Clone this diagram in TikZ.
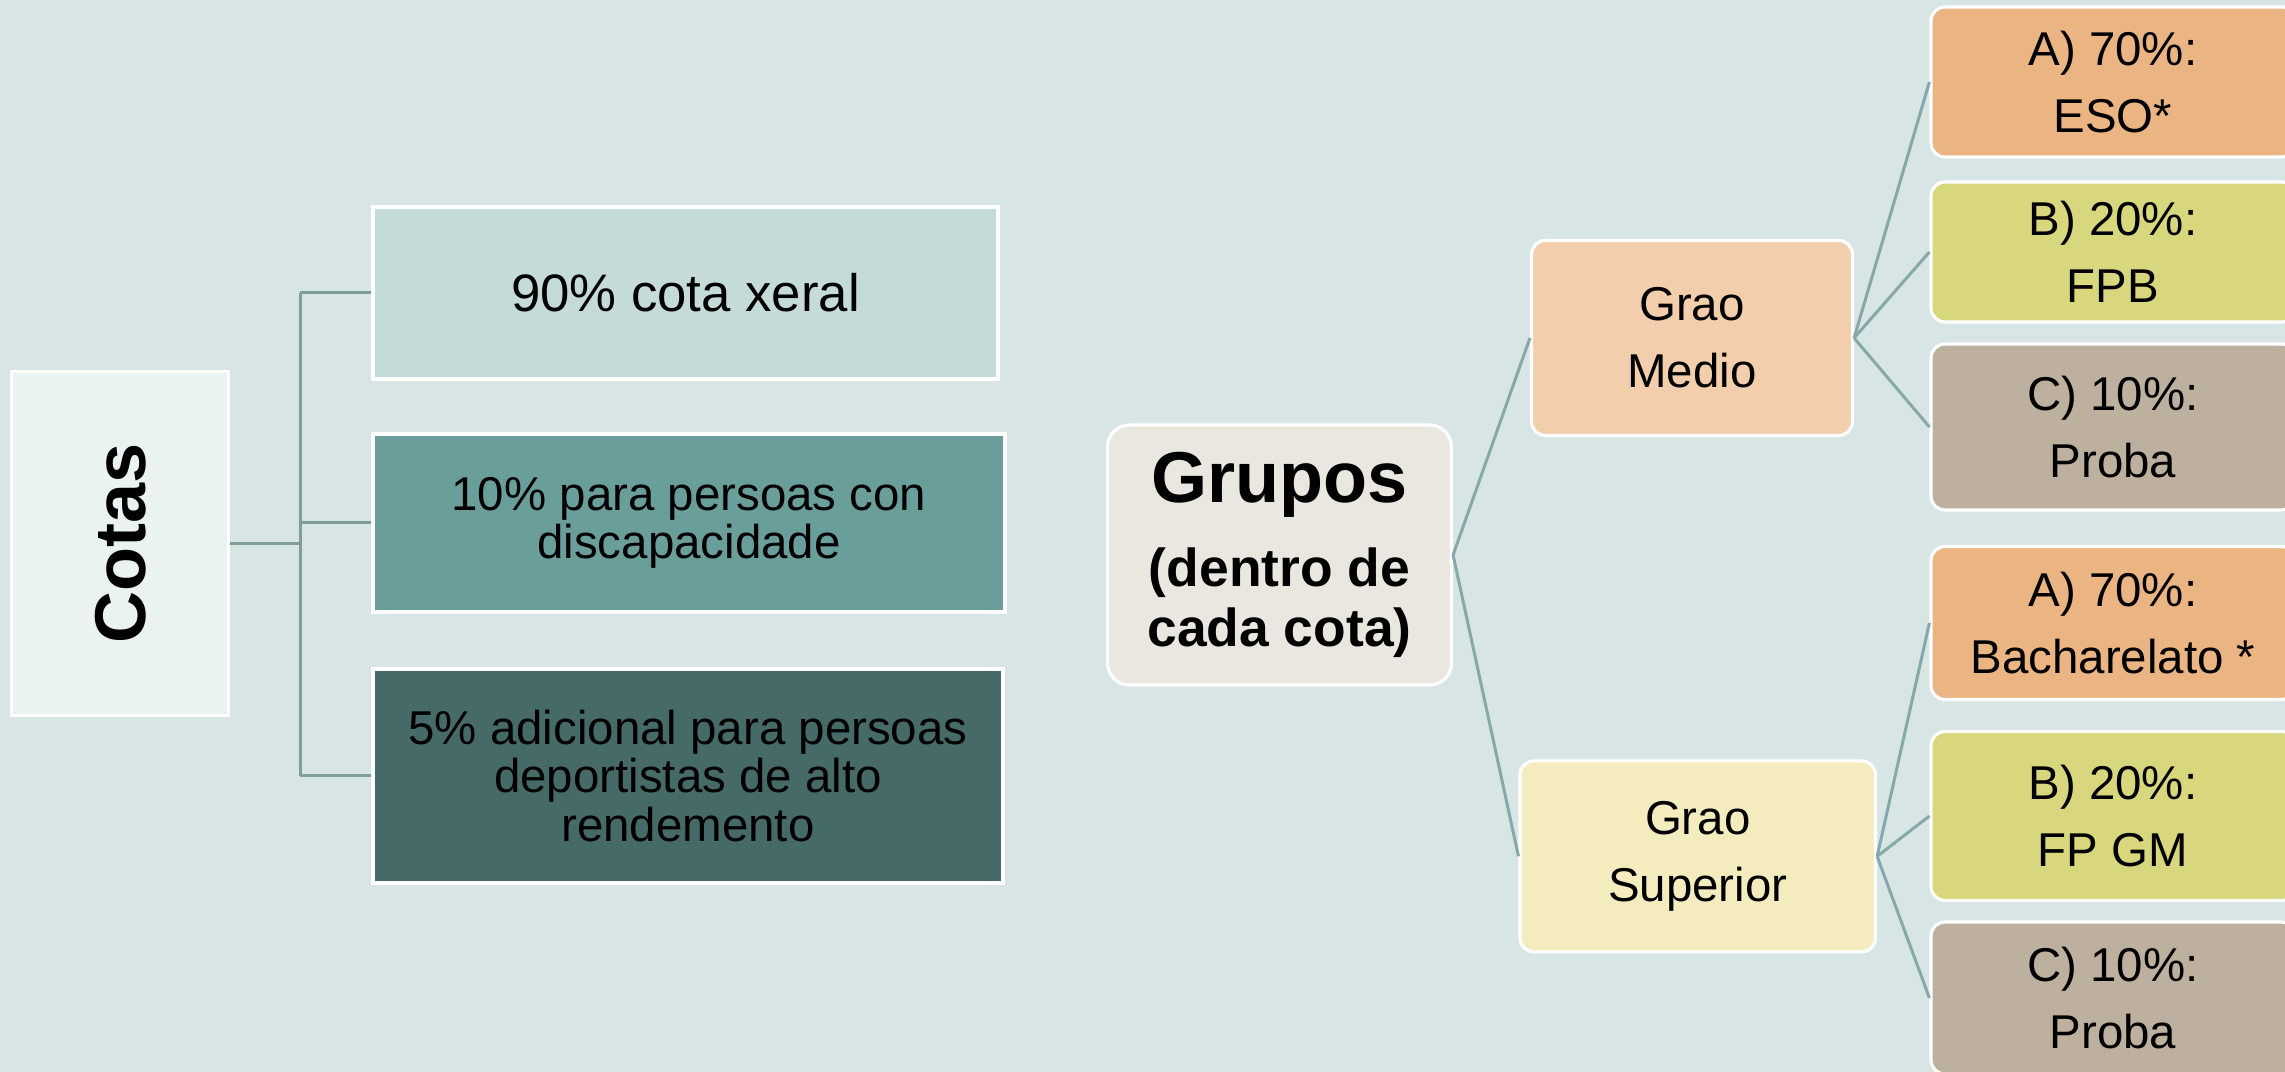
\documentclass[tikz,border=0pt]{standalone}
\usepackage{fontspec}
\setmainfont{Liberation Sans}
\usepackage{graphicx}
\usetikzlibrary{positioning}

\definecolor{fondo}{HTML}{D7E5E5}
\definecolor{cotafondo}{HTML}{EAF3F2}
\definecolor{xeralfondo}{HTML}{C5DBD9}
\definecolor{discapfondo}{HTML}{699E9B}
\definecolor{deportfondo}{HTML}{466A68}
\definecolor{grupofondo}{HTML}{EAE6E0}
\definecolor{mediofondo}{HTML}{F2CEAC}
\definecolor{superiorfondo}{HTML}{F4ECBE}
\definecolor{afondo}{HTML}{EAB483}
\definecolor{bfondo}{HTML}{D8D77E}
\definecolor{cfondo}{HTML}{BEB09F}
\definecolor{linea}{HTML}{7F9E9B}
\definecolor{lineab}{HTML}{86A8A8}

\tikzstyle{cotabox}=[draw=white,line width=0.9pt,inner sep=0pt,align=center,font=\fontsize{13.5}{13.8}\selectfont]
\tikzstyle{grupobox}=[cotabox,rounded corners=1.4mm,font=\fontsize{13.5}{19}\selectfont]
\tikzstyle{ligazon}=[draw=linea,line width=0.85pt]
\tikzstyle{ligazonb}=[draw=lineab,line width=0.85pt]

\begin{document}
\begin{tikzpicture}
	\fill[fondo] (0,0) rectangle (22.85,-10.72);
	\useasboundingbox (0,0) rectangle (22.85,-10.72);
			% Cotas on the left
			\node[cotabox,fill=cotafondo,minimum width=2.17cm,minimum height=3.44cm] (cotas) at (1.203,-5.436) {\rotatebox{90}{\bfseries\fontsize{20.5}{24}\selectfont Cotas}};
			\node[cotabox,fill=xeralfondo,minimum width=6.25cm,minimum height=1.72cm,font=\fontsize{15}{18}\selectfont] (xeral) at (6.855,-2.93) {90\% cota xeral};
			\node[cotabox,fill=discapfondo,minimum width=6.32cm,minimum height=1.78cm] (discap) at (6.89,-5.23) {10\% para persoas con\\discapacidade};
			\node[cotabox,fill=deportfondo,minimum width=6.30cm,minimum height=2.14cm] (deport) at (6.88,-7.76) {5\% adicional para persoas\\deportistas de alto\\rendemento};
			% Grupos and their branches
			\node[grupobox,fill=grupofondo,rounded corners=2.2mm,minimum width=3.44cm,minimum height=2.60cm] (grupos) at (12.795,-5.55) {{\bfseries\fontsize{20.5}{24}\selectfont Grupos}\\[5pt]{\bfseries\fontsize{15.2}{15.6}\selectfont (dentro de}\\[-2pt]{\bfseries\fontsize{15.2}{15.6}\selectfont cada cota)}};
			\node[grupobox,fill=mediofondo,minimum width=3.21cm,minimum height=1.95cm] (medio) at (16.92,-3.38) {Grao\\Medio};
			\node[grupobox,fill=superiorfondo,minimum width=3.555cm,minimum height=1.91cm] (superior) at (16.978,-8.564) {Grao\\Superior};
			\node[grupobox,fill=afondo,minimum width=3.64cm,minimum height=1.50cm] (esoA) at (21.13,-0.82) {A) 70\%:\\ESO*};
			\node[grupobox,fill=bfondo,minimum width=3.64cm,minimum height=1.40cm] (fpbB) at (21.13,-2.52) {B) 20\%:\\FPB};
			\node[grupobox,fill=cfondo,minimum width=3.64cm,minimum height=1.66cm] (probaC1) at (21.13,-4.27) {C) 10\%:\\Proba};
			\node[grupobox,fill=afondo,minimum width=3.64cm,minimum height=1.53cm] (bachA) at (21.13,-6.23) {A) 70\%:\\Bacharelato *};
			\node[grupobox,fill=bfondo,minimum width=3.64cm,minimum height=1.69cm] (fpgmB) at (21.13,-8.16) {B) 20\%:\\FP GM};
			\node[grupobox,fill=cfondo,minimum width=3.64cm,minimum height=1.52cm] (probaC2) at (21.13,-9.98) {C) 10\%:\\Proba};
	    		% Bracket from Cotas to its three boxes
			\coordinate (tronco) at (3.002,-5.436);
			\path[ligazon] (cotas.east) -- (tronco);
			\path[ligazon] (tronco |- xeral.west) -- (tronco |- deport.west);
			\foreach \caixa in {xeral,discap,deport}
				\path[ligazon] (tronco |- \caixa.west) -- (\caixa.west);
	   		 % Fan out from Grupos
	   		\foreach \orixe/ \destino in {grupos/medio, grupos/superior, medio/esoA, medio/fpbB, medio/probaC1, superior/bachA, superior/fpgmB, superior/probaC2}
	        		\path[ligazonb] (\orixe.east) -- (\destino.west);
\end{tikzpicture}
\end{document}
